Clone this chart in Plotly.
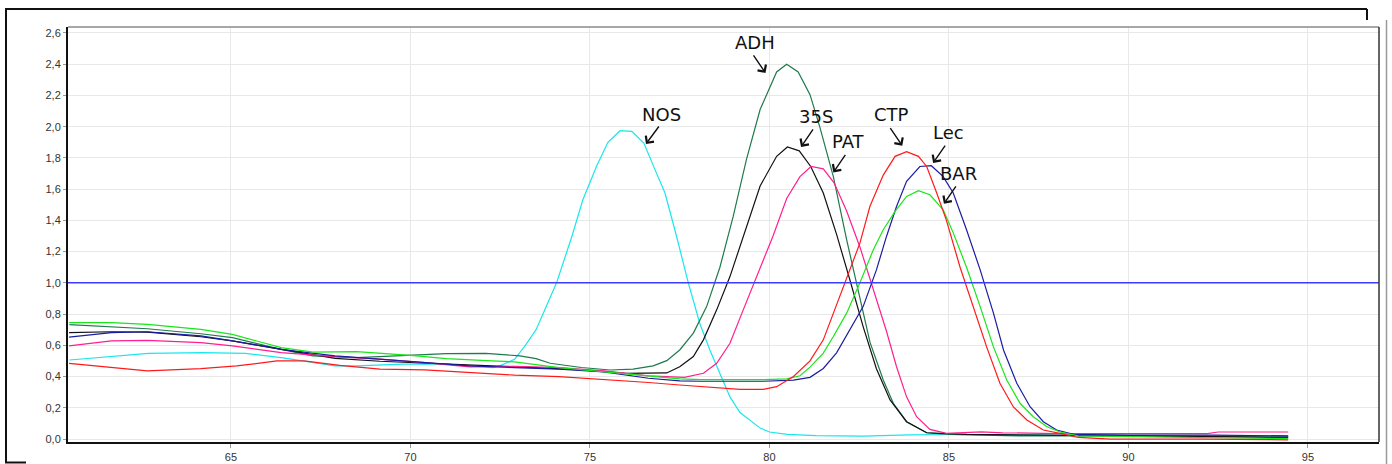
import plotly.graph_objects as go

# ---------------- data ----------------
nos_x = [60.5, 61.7, 62.7, 64.2, 65.4, 66.4, 67.3, 67.9, 68.5, 69.8, 71.0, 72.3, 72.5, 72.9, 73.2, 73.5,
         74.07, 74.5, 74.8, 75.19, 75.5, 75.84, 76.17, 76.5, 76.82, 77.09, 77.41, 77.74, 78.06, 78.34,
         78.62, 78.9, 79.18, 79.5, 79.74, 80.0, 80.5, 81.3, 82.6, 83.9, 85.1, 88.9, 92.4, 94.45]
nos_y = [0.506, 0.532, 0.549, 0.553, 0.549, 0.521, 0.489, 0.468, 0.468, 0.479, 0.479, 0.457, 0.47, 0.51, 0.60, 0.70,
         1.0, 1.30, 1.53, 1.75, 1.90, 1.974, 1.97, 1.895, 1.72, 1.575, 1.30, 1.0, 0.74, 0.57,
         0.42, 0.27, 0.17, 0.11, 0.07, 0.045, 0.03, 0.022, 0.018, 0.026, 0.029, 0.024, 0.024, 0.02]

adh_x = [60.5, 62.67, 64.16, 65.04, 66.4, 67.28, 68.5, 70.0, 71.0, 72.1, 72.5, 73.05, 73.5, 73.89, 74.76,
         75.56, 76.2, 76.76, 77.14, 77.5, 77.88, 78.25, 78.62, 78.99, 79.36, 79.74, 80.2, 80.48, 80.8,
         81.13, 81.4, 81.6, 81.78, 82.15, 82.52, 82.8, 83.17, 83.45, 83.82, 84.38, 85.0, 87.0, 90.0, 92.5, 94.45]
adh_y = [0.732, 0.706, 0.674, 0.649, 0.574, 0.532, 0.521, 0.536, 0.547, 0.549, 0.543, 0.532, 0.515, 0.485, 0.458,
         0.442, 0.447, 0.468, 0.502, 0.57, 0.678, 0.848, 1.10, 1.425, 1.79, 2.11, 2.35, 2.40, 2.35,
         2.205, 2.0, 1.83, 1.68, 1.276, 0.90, 0.62, 0.378, 0.229, 0.111, 0.04, 0.03, 0.02, 0.02, 0.015, 0.01]

s35_x = [60.49, 61.67, 62.67, 64.16, 65.04, 66.4, 67.9, 69.15, 70.0, 71.0, 72.27, 73.5, 74.76, 76.0, 76.88,
         77.14, 77.5, 77.88, 78.16, 78.53, 78.9, 79.27, 79.74, 80.2, 80.5, 80.83, 81.15, 81.5, 81.87, 82.24,
         82.61, 82.98, 83.36, 83.82, 84.38, 85.5, 88.0, 92.5, 94.45]
s35_y = [0.681, 0.687, 0.685, 0.655, 0.628, 0.574, 0.517, 0.498, 0.489, 0.483, 0.468, 0.457, 0.443, 0.421, 0.421,
         0.423, 0.463, 0.528, 0.635, 0.827, 1.04, 1.30, 1.62, 1.81, 1.87, 1.845, 1.745, 1.575, 1.31, 1.02,
         0.72, 0.45, 0.25, 0.111, 0.04, 0.03, 0.025, 0.02, 0.012]

pat_x = [60.49, 61.67, 62.67, 64.16, 65.04, 66.4, 67.9, 69.15, 70.4, 71.65, 72.9, 74.14, 75.39, 76.63, 77.63,
         78.16, 78.53, 78.9, 79.27, 79.74, 80.1, 80.48, 80.85, 81.16, 81.5, 81.8, 82.15, 82.52, 82.89, 83.26,
         83.54, 83.82, 84.1, 84.47, 84.93, 85.9, 86.5, 88.0, 92.2, 92.5, 94.45]
pat_y = [0.596, 0.628, 0.632, 0.617, 0.596, 0.553, 0.528, 0.511, 0.489, 0.462, 0.466, 0.457, 0.436, 0.404, 0.395,
         0.421, 0.485, 0.613, 0.827, 1.09, 1.30, 1.54, 1.68, 1.745, 1.73, 1.64, 1.46, 1.23, 0.96, 0.69,
         0.463, 0.27, 0.143, 0.062, 0.036, 0.046, 0.04, 0.035, 0.035, 0.045, 0.045]

ctp_x = [60.49, 61.67, 62.67, 64.16, 65.16, 66.28, 67.03, 68.03, 69.15, 70.4, 71.65, 72.9, 74.14, 75.39, 76.63,
         77.5, 78.43, 79.18, 79.83, 80.2, 80.67, 81.13, 81.5, 81.78, 82.15, 82.52, 82.8, 83.17, 83.5, 83.82,
         84.15, 84.38, 84.66, 84.93, 85.31, 85.68, 86.05, 86.42, 86.79, 87.17, 87.63, 88.09, 88.6, 89.5, 92.0, 94.45]
ctp_y = [0.485, 0.457, 0.436, 0.451, 0.468, 0.5, 0.5, 0.472, 0.447, 0.443, 0.426, 0.409, 0.4, 0.383, 0.362,
         0.346, 0.331, 0.318, 0.318, 0.335, 0.40, 0.50, 0.635, 0.806, 1.02, 1.254, 1.49, 1.69, 1.81, 1.84,
         1.81, 1.745, 1.575, 1.40, 1.10, 0.848, 0.59, 0.357, 0.207, 0.122, 0.058, 0.036, 0.01, 0.0, 0.0, -0.005]

bar_x = [60.49, 61.67, 62.67, 64.16, 65.04, 66.4, 67.28, 68.5, 70.0, 71.0, 72.27, 72.9, 74.14, 75.39, 76.63,
         77.5, 78.1, 79.83, 80.48, 80.85, 81.13, 81.5, 81.78, 82.15, 82.52, 82.89, 83.17, 83.5, 83.82, 84.15,
         84.47, 84.84, 85.12, 85.49, 85.87, 86.24, 86.61, 86.98, 87.35, 87.72, 88.09, 88.6, 90.0, 92.0, 94.45]
bar_y = [0.745, 0.745, 0.734, 0.702, 0.67, 0.585, 0.557, 0.56, 0.536, 0.515, 0.5, 0.494, 0.457, 0.43, 0.404,
         0.385, 0.38, 0.38, 0.385, 0.405, 0.46, 0.55, 0.656, 0.806, 1.0, 1.21, 1.34, 1.457, 1.553, 1.59,
         1.564, 1.468, 1.32, 1.10, 0.848, 0.59, 0.378, 0.229, 0.143, 0.08, 0.045, 0.02, 0.015, 0.01, 0.002]

lec_x = [60.49, 61.67, 62.67, 64.16, 65.04, 66.4, 67.9, 69.15, 70.4, 71.65, 72.9, 74.14, 75.39, 76.63, 77.5,
         78.1, 79.83, 80.67, 81.13, 81.5, 81.87, 82.24, 82.61, 82.98, 83.26, 83.54, 83.82, 84.19, 84.51, 84.84,
         85.12, 85.49, 85.87, 86.24, 86.52, 86.89, 87.26, 87.63, 88.0, 88.47, 90.0, 92.4, 94.45]
lec_y = [0.653, 0.681, 0.687, 0.66, 0.628, 0.574, 0.532, 0.511, 0.489, 0.468, 0.457, 0.447, 0.43, 0.389, 0.372,
         0.37, 0.37, 0.377, 0.395, 0.452, 0.552, 0.70, 0.848, 1.083, 1.297, 1.489, 1.65, 1.745, 1.75, 1.68,
         1.575, 1.34, 1.083, 0.806, 0.57, 0.357, 0.207, 0.111, 0.058, 0.03, 0.025, 0.025, 0.02]

threshold = 1.0

y_ticks = [0.0, 0.2, 0.4, 0.6, 0.8, 1.0, 1.2, 1.4, 1.6, 1.8, 2.0, 2.2, 2.4, 2.6]
x_ticks = [65, 70, 75, 80, 85, 90, 95]

series = [
    ("NOS", nos_x, nos_y, "#19e6ee"),
    ("ADH", adh_x, adh_y, "#1f7a4c"),
    ("35S", s35_x, s35_y, "#111111"),
    ("PAT", pat_x, pat_y, "#ff1f8f"),
    ("Lec", lec_x, lec_y, "#1c1ca0"),
    ("BAR", bar_x, bar_y, "#19e619"),
    ("CTP", ctp_x, ctp_y, "#ff1a1a"),
]

# label text position (x, y) and arrow tip (x, y), arrow tail offset in px
labels = [
    ("NOS", 77.00, 2.081, 76.56, 1.889, 14, -19),
    ("ADH", 79.60, 2.540, 79.89, 2.344, -13, -19),
    ("35S", 81.30, 2.066, 80.88, 1.870, 13, -19),
    ("PAT", 82.21, 1.904, 81.78, 1.707, 13, -19),
    ("CTP", 83.41, 2.079, 83.70, 1.878, -13, -19),
    ("Lec", 84.99, 1.960, 84.56, 1.767, 13, -19),
    ("BAR", 85.28, 1.699, 84.86, 1.506, 13, -19),
]

fig = go.Figure()
for name, xs, ys, col in series:
    fig.add_trace(go.Scatter(x=xs, y=ys, mode="lines", name=name,
                             line=dict(color=col, width=1.2), showlegend=False,
                             hoverinfo="skip"))

annotations = []
for name, tx, ty, px, py, axo, ayo in labels:
    annotations.append(dict(x=tx, y=ty, xref="x", yref="y", text=name, showarrow=False,
                            font=dict(family="DejaVu Sans", size=18, color="#111111"),
                            xanchor="center", yanchor="middle"))
    annotations.append(dict(x=px, y=py, xref="x", yref="y", text="", showarrow=True,
                            ax=axo, ay=ayo, axref="pixel", ayref="pixel",
                            arrowhead=4, arrowsize=1.4, arrowwidth=1.4, arrowcolor="#111111",
                            standoff=0, startstandoff=0))
# axis title, clipped at the bottom edge exactly as in the reference
annotations.append(dict(x=(723 - 68) / 1311, y=(442 - 460) / 415, xref="paper", yref="paper",
                        text="°C", showarrow=False, xanchor="center", yanchor="top",
                        font=dict(family="Liberation Sans", size=13, color="#333333")))

shapes = [
    # threshold line
    dict(type="line", xref="paper", yref="y", x0=0, x1=1, y0=threshold, y1=threshold,
         line=dict(color="#3c3cff", width=1.5), layer="above"),
    # top border (gray) and right border (dark)
    dict(type="line", xref="paper", yref="paper", x0=0, x1=1, y0=1, y1=1,
         line=dict(color="#8a8a8a", width=1.5)),
    dict(type="line", xref="paper", yref="paper", x0=1, x1=1, y0=0, y1=1,
         line=dict(color="#333333", width=1.5)),
    # outer frame
    dict(type="line", xref="paper", yref="paper", x0=(5 - 68) / 1311, x1=(1367 - 68) / 1311,
         y0=(442 - 9) / 415, y1=(442 - 9) / 415, line=dict(color="#111111", width=2)),
    dict(type="line", xref="paper", yref="paper", x0=(1367 - 68) / 1311, x1=(1367 - 68) / 1311,
         y0=(442 - 9) / 415, y1=(442 - 20) / 415, line=dict(color="#111111", width=2)),
    dict(type="line", xref="paper", yref="paper", x0=(6 - 68) / 1311, x1=(6 - 68) / 1311,
         y0=(442 - 9) / 415, y1=(442 - 463) / 415, line=dict(color="#111111", width=2)),
    dict(type="line", xref="paper", yref="paper", x0=(5 - 68) / 1311, x1=(26 - 68) / 1311,
         y0=(442 - 462.5) / 415, y1=(442 - 462.5) / 415, line=dict(color="#111111", width=2)),
    dict(type="line", xref="paper", yref="paper", x0=(1386.5 - 68) / 1311, x1=(1386.5 - 68) / 1311,
         y0=(442 - 20) / 415, y1=(442 - 466) / 415, line=dict(color="#9a9a9a", width=1.5)),
]

fig.update_layout(
    width=1392, height=464,
    margin=dict(l=68, r=13, t=27, b=22, autoexpand=False),
    paper_bgcolor="white", plot_bgcolor="white",
    separators=", ",
    showlegend=False,
    hovermode=False,
    annotations=annotations,
    shapes=shapes,
    xaxis=dict(range=[60.46, 96.98], tickvals=x_ticks, ticktext=[str(v) for v in x_ticks],
               showgrid=True, gridcolor="#e8e8e8", gridwidth=1, zeroline=False,
               showline=True, linecolor="#111111", linewidth=2,
               ticks="outside", ticklen=4, tickcolor="#999999",
               tickfont=dict(family="Liberation Sans", size=11, color="#333333")),
    yaxis=dict(range=[-0.019, 2.638], tickvals=y_ticks, tickformat=".1f",
               showgrid=True, gridcolor="#e8e8e8", gridwidth=1, zeroline=False,
               showline=True, linecolor="#111111", linewidth=2,
               ticks="outside", ticklen=3, tickcolor="#999999",
               tickfont=dict(family="Liberation Sans", size=11, color="#333333")),
)

# remove the page's default 8px body margin so the figure sits at the window's corner
fig.write_html("out.html", config={"displayModeBar": False, "staticPlot": True},
               post_script="document.body.style.margin='0';document.body.style.overflow='hidden';")
